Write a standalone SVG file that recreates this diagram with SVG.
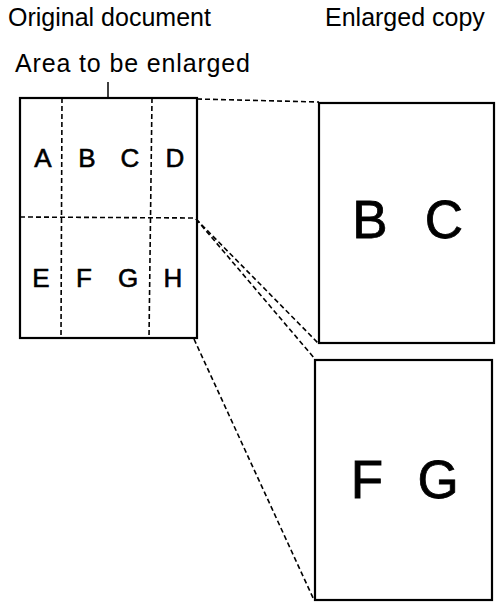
<svg xmlns="http://www.w3.org/2000/svg" width="496" height="602" viewBox="0 0 496 602">
<style>
text{font-family:"Liberation Sans",Arial,sans-serif;fill:#000}
.hdr{font-size:25px}
.cell{font-size:26px;text-anchor:middle;stroke:#000;stroke-width:0.6}
.big{font-size:53px;text-anchor:middle;stroke:#000;stroke-width:0.8}
.box{fill:#fff;stroke:#000;stroke-width:2.2}
.dash{fill:none;stroke:#000;stroke-width:1.6;stroke-dasharray:5 3}
</style>
<rect width="496" height="602" fill="#fff"/>
<g id="labels">
<text class="hdr" x="8" y="26">Original document</text>
<text class="hdr" x="325" y="26">Enlarged copy</text>
<text class="hdr" x="15" y="72" textLength="235">Area to be enlarged</text>
</g>
<g id="original">
<rect class="box" x="20" y="98" width="177" height="240"/>
<line class="dash" x1="62" y1="98" x2="61" y2="338"/>
<line class="dash" x1="152" y1="98" x2="149" y2="338"/>
<line class="dash" x1="20" y1="217" x2="197" y2="218"/>
<text class="cell" x="43" y="167">A</text>
<text class="cell" x="87" y="167">B</text>
<text class="cell" x="130" y="167">C</text>
<text class="cell" x="175" y="167">D</text>
<text class="cell" x="41" y="287">E</text>
<text class="cell" x="84" y="287">F</text>
<text class="cell" x="128" y="287">G</text>
<text class="cell" x="173" y="287">H</text>
</g>
<g id="copyBC">
<rect class="box" x="319" y="103" width="175" height="240"/>
<text class="big" x="370" y="238">B</text>
<text class="big" x="444" y="238">C</text>
</g>
<g id="copyFG">
<rect class="box" x="315" y="360" width="177" height="240"/>
<text class="big" x="367" y="498">F</text>
<text class="big" x="438" y="498">G</text>
</g>
<g id="connectors">
<line x1="108" y1="82" x2="108" y2="98" stroke="#000" stroke-width="1.5"/>
<line class="dash" x1="197" y1="99" x2="319" y2="102"/>
<line class="dash" x1="196" y1="219" x2="318" y2="343"/>
<line class="dash" x1="196" y1="219" x2="315" y2="359"/>
<line class="dash" x1="194" y1="339" x2="314" y2="600"/>
</g>
</svg>
